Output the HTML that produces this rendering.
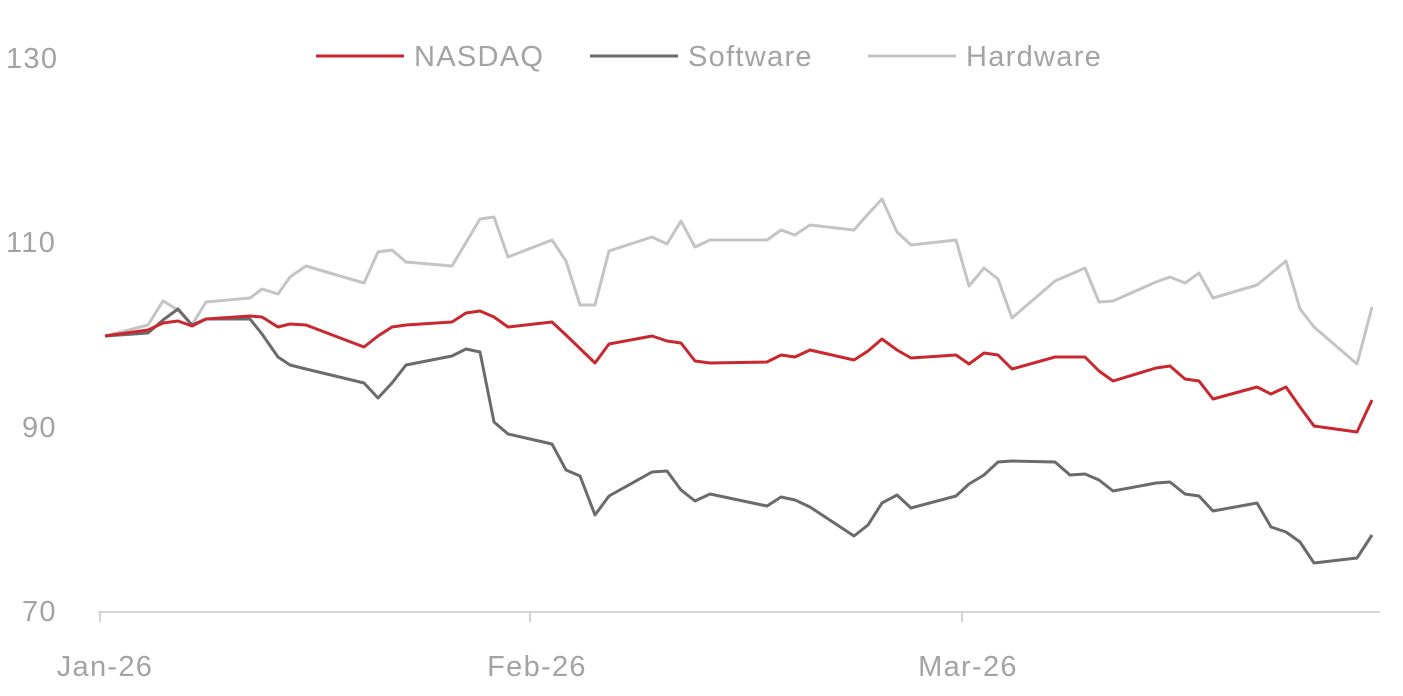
<!DOCTYPE html>
<html><head><meta charset="utf-8"><style>
html,body{margin:0;padding:0;background:#fff;}
svg{display:block;}
text{font-family:"Liberation Sans",sans-serif;fill:#a3a3a3;font-size:29px;letter-spacing:1.3px;}
</style></head><body>
<svg width="1403" height="696" viewBox="0 0 1403 696">
<text x="6" y="68">130</text>
<text x="6" y="252">110</text>
<text x="22" y="437">90</text>
<text x="22" y="621">70</text>
<line x1="98" y1="612" x2="1380" y2="612" stroke="#d4d4d4" stroke-width="2"/>
<line x1="100" y1="612" x2="100" y2="622" stroke="#d4d4d4" stroke-width="2"/>
<line x1="530" y1="612" x2="530" y2="622" stroke="#d4d4d4" stroke-width="2"/>
<line x1="962" y1="612" x2="962" y2="622" stroke="#d4d4d4" stroke-width="2"/>
<text x="105" y="676" text-anchor="middle">Jan-26</text>
<text x="537" y="676" text-anchor="middle">Feb-26</text>
<text x="968" y="676" text-anchor="middle">Mar-26</text>
<line x1="316" y1="56" x2="404" y2="56" stroke="#c8282e" stroke-width="3"/>
<text x="414" y="66">NASDAQ</text>
<line x1="590" y1="56" x2="678" y2="56" stroke="#6b6b6b" stroke-width="3"/>
<text x="688" y="66">Software</text>
<line x1="868" y1="56" x2="956" y2="56" stroke="#c4c4c4" stroke-width="3"/>
<text x="966" y="66">Hardware</text>
<g fill="none" stroke-width="3" stroke-linejoin="round">
<polyline stroke="#c4c4c4" points="105,336 148,325 163,301 178,310 192,325 206,302 250,298 262,289 278,294 290,277 306,266 364,283 378,252 392,250 406,262 452,266 480,219 494,217 508,257 552,240 566,261 580,305 595,305 609,251 652,237 667,244 681,221 695,247 710,240 767,240 781,230 795,235 810,225 854,230 868,214 882,199 897,232 911,245 956,240 969,286 984,268 998,279 1012,318 1055,281 1085,268 1099,302 1113,301 1156,282 1170,277 1185,283 1199,273 1213,298 1257,285 1286,261 1300,309 1314,327 1357,364 1372,307"/>
<polyline stroke="#6b6b6b" points="105,336 148,333 163,320 178,309 192,325 206,319 250,319 262,334 278,357 290,365 306,369 364,383 378,398 392,383 406,365 452,356 466,349 480,352 494,422 508,434 552,444 566,470 580,476 595,515 609,496 652,472 667,471 681,490 695,501 710,494 767,506 781,497 795,500 810,507 854,536 868,525 882,503 897,495 911,508 956,496 969,484 984,475 998,462 1012,461 1055,462 1070,475 1085,474 1099,480 1113,491 1156,483 1170,482 1185,494 1199,496 1213,511 1257,503 1271,527 1286,532 1300,542 1314,563 1357,558 1372,535"/>
<polyline stroke="#c8282e" points="105,336 148,330 163,323 178,321 192,326 206,319 250,316 262,317 278,327 290,324 306,325 364,347 378,336 392,327 406,325 452,322 466,313 480,311 494,317 508,327 552,322 566,335 595,363 609,344 652,336 667,341 681,343 695,361 710,363 767,362 781,355 795,357 810,350 854,360 868,351 882,339 897,350 911,358 956,355 969,364 984,353 998,355 1012,369 1055,357 1085,357 1099,371 1113,381 1156,368 1170,366 1185,379 1199,381 1213,399 1257,387 1271,394 1286,387 1300,407 1314,426 1357,432 1372,400"/>
</g>
</svg>
</body></html>
